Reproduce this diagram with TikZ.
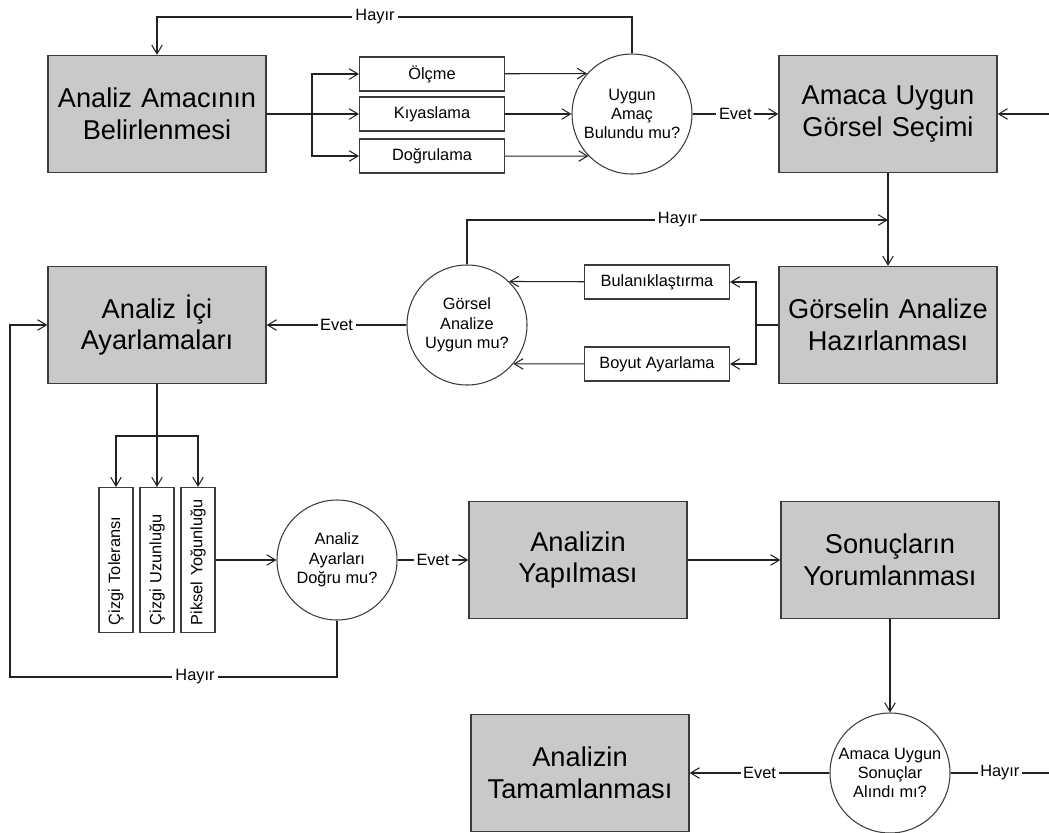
\documentclass[tikz,border=0pt]{standalone}
\usepackage{fontspec}
\setmainfont{Liberation Sans}
\usepackage{xcolor}
\usepackage{tikz}
\usetikzlibrary{arrows.meta}
\definecolor{StageGray}{HTML}{C8C9CB}
\definecolor{EdgeGray}{HTML}{3C3C3C}
\definecolor{LineDark}{HTML}{222222}

\begin{document}
\begin{tikzpicture}[font=\fontsize{9.3}{11}\selectfont, >={Straight Barb[length=5pt,width=6pt]}, x=.2mm, y=-.2mm, line width=.6pt]
\tikzset{stage/.style={draw=EdgeGray, line width=.8pt, fill=StageGray, align=center, minimum width=4.36cm, minimum height=2.34cm, text width=4.2cm, inner sep=2pt, font=\fontsize{15.5}{18}\selectfont}, option/.style={draw=EdgeGray, fill=white, align=center, minimum width=2.9cm, minimum height=.68cm}, vopt/.style={draw=EdgeGray, fill=white, rotate=90, align=left, text width=2.6cm, inner xsep=.15cm, minimum height=.68cm}, decision/.style={draw=EdgeGray, circle, fill=white, align=center, minimum size=2.4cm, inner sep=0pt}, lbl/.style={fill=white, inner sep=1.5pt}, link/.style={draw=LineDark}}
\useasboundingbox (0,0) rectangle (1049,832);
\node[stage] (amac) at (157,114) {Analiz Amacının\\Belirlenmesi};
\foreach \name/\y/\label in {olcme/74/Ölçme,kiyas/114/Kıyaslama,dogru/156/Doğrulama} {
  \node[option] (\name) at (432,\y) {\label};
}
\coordinate (ayrim1) at (312,114);
\draw[link,->] (amac) -- (kiyas);
\draw[link,->] (ayrim1) |- (olcme);
\draw[link,->] (ayrim1) |- (dogru);
\node[decision] (uygun) at (632,114) {Uygun\\Amaç\\Bulundu mu?};
\draw[link,->] (olcme) -- (uygun.138);
\draw[link,->] (kiyas) -- (uygun);
\draw[link,->] (dogru) -- (uygun.224);
\node[lbl] (hayir1) at (375,17) {Hayır};
\draw[link] (uygun) |- (hayir1);
\draw[link,->] (hayir1) -| (amac);
\node[stage] (secim) at (888,114) {Amaca Uygun\\Görsel Seçimi};
\draw[link,->] (uygun) -- node[lbl] (evet1) {Evet} (secim);
\coordinate (sag1) at (1049,114);
\draw[link,->] (sag1) -- (secim);
% ikinci satir
\node[stage] (hazir) at (888,325) {Görselin Analize\\Hazırlanması};
\draw[link,->] (secim) -- (hazir);
\foreach \name/\y/\label in {bulanik/282/Bulanıklaştırma,boyut/364/Boyut Ayarlama} {
  \node[option] (\name) at (657,\y) {\label};
}
\coordinate (ayrim2) at (756,325);
\draw[link] (hazir) -- (ayrim2);
\draw[link,->] (ayrim2) |- (bulanik);
\draw[link,->] (ayrim2) |- (boyut);
\node[decision] (gorsel) at (467,325) {Görsel\\Analize\\Uygun mu?};
\draw[link,->] (bulanik) -- (gorsel.46);
\draw[link,->] (boyut) -- (gorsel.320);
\coordinate (kavsak) at (888,220);
\draw[link,->] (gorsel) |- node[lbl, pos=.75] (hayir2) {Hayır} (kavsak);
\node[stage] (icayar) at (157,325) {Analiz İçi\\Ayarlamaları};
\draw[link,->] (gorsel) -- node[lbl] (evet2) {Evet} (icayar);
% ucuncu satir
\foreach \name/\x/\label in {tolerans/116/Çizgi Toleransı,uzunluk/157/Çizgi Uzunluğu,piksel/198/Piksel Yoğunluğu} {
  \node[vopt] (\name) at (\x,560) {\label};
}
\coordinate (ayrim3) at (157,436);
\draw[link,->] (icayar) -- (uzunluk);
\draw[link,->] (ayrim3) -| (tolerans);
\draw[link,->] (ayrim3) -| (piksel);
\node[decision] (kontrol) at (337,560) {Analiz\\Ayarları\\Doğru mu?};
\draw[link,->] (piksel) -- (kontrol);
\node[lbl] (hayir3) at (195,677) {Hayır};
\coordinate (sol) at (10,325);
\draw[link] (kontrol) |- (hayir3);
\draw[link,->] (hayir3) -| (sol) -- (icayar);
\node[stage] (yapilma) at (578,560) {Analizin\\Yapılması};
\draw[link,->] (kontrol) -- node[lbl] (evet3) {Evet} (yapilma);
\node[stage] (yorum) at (890,560) {Sonuçların\\Yorumlanması};
\draw[link,->] (yapilma) -- (yorum);
% son satir
\node[decision] (sonuc) at (890,773) {Amaca Uygun\\Sonuçlar\\Alındı mı?};
\draw[link,->] (yorum) -- (sonuc);
\node[stage] (tamam) at (580,773) {Analizin\\Tamamlanması};
\draw[link,->] (sonuc) -- node[lbl] (evet4) {Evet} (tamam);
\coordinate (sag2) at (1049,773);
\draw[link] (sonuc) -- node[lbl] (hayir4) {Hayır} (sag2);
\end{tikzpicture}
\end{document}
